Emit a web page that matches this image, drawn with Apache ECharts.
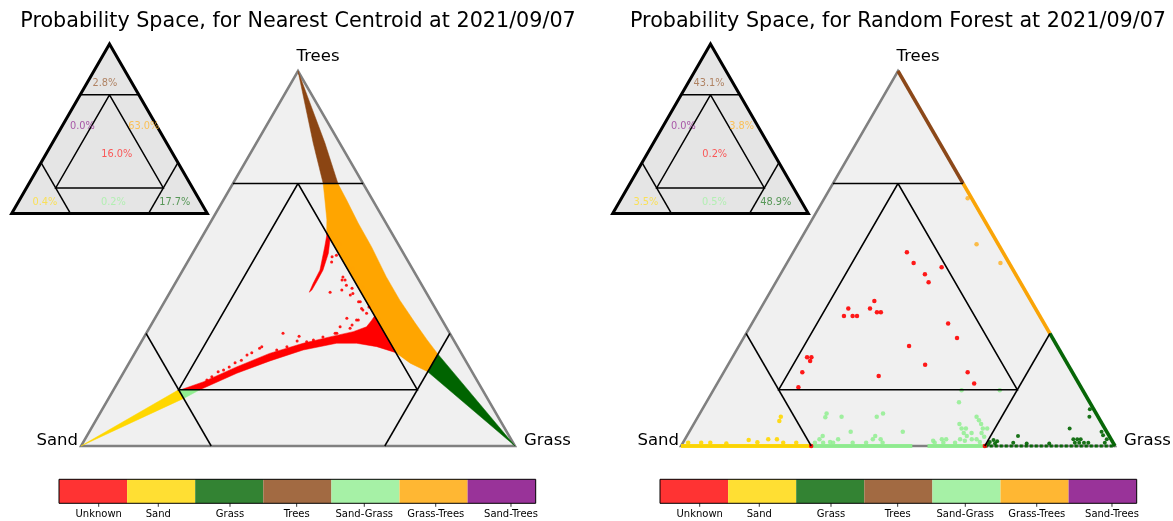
<!DOCTYPE html>
<html>
<head>
<meta charset="utf-8">
<script src="https://cdn.jsdelivr.net/npm/echarts@6/dist/echarts.min.js"></script>
<style>
html, body { margin: 0; padding: 0; background: #fff; }
#chart { width: 1173px; height: 521px; }
</style>
</head>
<body>
<div id="chart"></div>
<script>
var FONT = 'DejaVu Sans';

// classes, in colour bar order
var classNames = ['Unknown', 'Sand', 'Grass', 'Trees', 'Sand-Grass', 'Grass-Trees', 'Sand-Trees'];
var classColors = ['#ff0000', '#ffd700', '#006400', '#8b4513', '#90ee90', '#ffa500', '#800080'];
var legendColors = ['#ff3333', '#ffdf33', '#338333', '#a26a42', '#a6f1a6', '#ffb733', '#993399'];

// share of pixels per class (%), same order as classNames
var ncShares = [16.0, 0.4, 17.7, 2.8, 0.2, 63.0, 0.0];
var rfShares = [0.2, 3.5, 48.9, 43.1, 0.5, 3.8, 0.0];

// all points are [grass, trees] probabilities, sand = 1 - grass - trees

// Nearest Centroid: the clouds are so dense they read as filled bands, outlines below
var ncTreesBand = [[0, 1], [0.158, 0.808], [0.242, 0.7], [0.208, 0.7], [0.131, 0.808]];
var ncGrassTreesBand = [[0.208, 0.7], [0.242, 0.7], [0.284, 0.656], [0.341, 0.595], [0.404, 0.531], [0.478, 0.451],
  [0.540, 0.389], [0.606, 0.328], [0.656, 0.283], [0.7, 0.245], [0.7, 0.198], [0.648, 0.221], [0.601, 0.249],
  [0.282, 0.568], [0.265, 0.603], [0.234, 0.656]];
var ncGrassBand = [[0.7, 0.245], [1, 0], [0.7, 0.198]];
var ncUnknownBand = [[0.155, 0.15], [0.196, 0.171], [0.253, 0.211], [0.311, 0.247], [0.375, 0.274], [0.428, 0.291],
  [0.475, 0.305], [0.499, 0.318], [0.502, 0.335], [0.503, 0.347], [0.601, 0.249], [0.549, 0.265], [0.498, 0.274],
  [0.452, 0.274], [0.384, 0.256], [0.322, 0.227], [0.262, 0.194], [0.199, 0.15]];
var ncUnknownHook = [[0.282, 0.568], [0.299, 0.549], [0.313, 0.514], [0.323, 0.469], [0.324, 0.438], [0.324, 0.416],
  [0.321, 0.41], [0.318, 0.434], [0.316, 0.469], [0.296, 0.531], [0.286, 0.56]];
var ncSandBand = [[0, 0], [0.15, 0.15], [0.173, 0.127]];
var ncSandGrassBand = [[0.15, 0.15], [0.199, 0.15], [0.173, 0.127]];

// Nearest Centroid: loose points
var ncUnknownPts = [[0.315, 0.301], [0.356, 0.293], [0.358, 0.28], [0.284, 0.265], [0.281, 0.261], [0.269, 0.249],
  [0.261, 0.243], [0.255, 0.229], [0.244, 0.222], [0.236, 0.211], [0.227, 0.203], [0.217, 0.198], [0.209, 0.185],
  [0.202, 0.176], [0.442, 0.341], [0.463, 0.323], [0.451, 0.385], [0.468, 0.363], [0.481, 0.354], [0.478, 0.371],
  [0.467, 0.336], [0.439, 0.301], [0.412, 0.291], [0.394, 0.283], [0.381, 0.278], [0.342, 0.265], [0.323, 0.256],
  [0.326, 0.505], [0.334, 0.509], [0.332, 0.491], [0.378, 0.451], [0.387, 0.443], [0.380, 0.443], [0.397, 0.429],
  [0.393, 0.416], [0.414, 0.421], [0.369, 0.41], [0.419, 0.403], [0.423, 0.407], [0.447, 0.385], [0.463, 0.367],
  [0.471, 0.336], [0.438, 0.318], [0.463, 0.314], [0.435, 0.301]];
var ncGrassTreesPts = [[0.298, 0.560], [0.313, 0.544], [0.327, 0.531], [0.310, 0.555], [0.342, 0.515], [0.355, 0.501],
  [0.368, 0.485], [0.383, 0.475], [0.395, 0.459], [0.408, 0.445], [0.422, 0.432], [0.437, 0.416], [0.452, 0.4],
  [0.466, 0.387], [0.479, 0.373], [0.493, 0.36], [0.505, 0.349], [0.328, 0.539], [0.362, 0.501], [0.389, 0.475],
  [0.414, 0.448], [0.438, 0.424], [0.461, 0.4], [0.481, 0.379], [0.516, 0.341]];

// Random Forest: runs of points packed along the triangle edges
var rfTreesEdge = [[0, 1], [0.3, 0.7]];
var rfGrassTreesEdge = [[0.3, 0.7], [0.7, 0.3]];
var rfGrassEdge = [[0.7, 0.3], [1, 0]];
var rfSandBase = [[0, 0], [0.3, 0]];
var rfSandGrassBase1 = [[0.3, 0], [0.533, 0]];
var rfSandGrassBase2 = [[0.568, 0], [0.7, 0]];
var rfGrassBase = [[0.7, 0], [1, 0]];

// Random Forest: loose points
var rfUnknownPts = [[0.262, 0.517], [0.292, 0.488], [0.333, 0.458], [0.352, 0.437], [0.362, 0.477], [0.252, 0.387],
  [0.202, 0.367], [0.202, 0.347], [0.222, 0.347], [0.232, 0.347], [0.252, 0.367], [0.273, 0.357], [0.282, 0.357],
  [0.452, 0.327], [0.492, 0.288], [0.392, 0.267], [0.172, 0.237], [0.182, 0.237], [0.184, 0.227], [0.181, 0.197],
  [0.192, 0.157], [0.454, 0.217], [0.362, 0.187], [0.562, 0.197], [0.592, 0.167], [0.3, 0], [0.7, 0]];
var rfGrassTreesPts = [[0.330, 0.661], [0.412, 0.538], [0.492, 0.488]];
var rfSandPts = [[0.191, 0.078], [0.193, 0.067], [0.148, 0.016], [0.171, 0.010], [0.192, 0.018], [0.212, 0.018],
  [0.101, 0.007], [0.063, 0.009], [0.042, 0.009], [0.012, 0.009], [0.261, 0.009], [0.231, 0.009]];
var rfSandGrassPts = [[0.292, 0.087], [0.294, 0.077], [0.331, 0.078], [0.412, 0.078], [0.422, 0.087], [0.372, 0.038],
  [0.492, 0.038], [0.313, 0.027], [0.434, 0.027], [0.433, 0.018], [0.451, 0.018], [0.460, 0.009], [0.422, 0.009],
  [0.391, 0.009], [0.353, 0.018], [0.338, 0.011], [0.346, 0.009], [0.310, 0.018], [0.304, 0.009], [0.323, 0.009],
  [0.574, 0.014], [0.580, 0.009], [0.592, 0.018], [0.602, 0.018], [0.600, 0.009], [0.582, 0.117], [0.572, 0.149],
  [0.612, 0.059], [0.623, 0.047], [0.633, 0.047], [0.634, 0.035], [0.652, 0.035], [0.642, 0.078], [0.652, 0.069],
  [0.662, 0.059], [0.672, 0.047], [0.675, 0.035], [0.686, 0.025], [0.645, 0.027], [0.661, 0.018], [0.672, 0.018],
  [0.634, 0.018], [0.647, 0.014], [0.683, 0.011], [0.627, 0.009], [0.660, 0.149], [0.682, 0.047]];
var rfGrassPts = [[0.893, 0.098], [0.902, 0.078], [0.872, 0.047], [0.950, 0.038], [0.958, 0.029], [0.763, 0.027],
  [0.895, 0.018], [0.904, 0.018], [0.912, 0.018], [0.903, 0.009], [0.913, 0.009], [0.924, 0.009], [0.934, 0.009],
  [0.972, 0.018], [0.972, 0.009], [0.761, 0.009], [0.712, 0.016], [0.720, 0.007], [0.706, 0.011], [0.845, 0.007],
  [0.793, 0.007], [0.722, 0.013], [0.705, 0.005]];

// triangle and class boundaries
var triangle = [[0, 0], [1, 0], [0, 1]];
var boundaries = [
  [[0, 0.7], [0.3, 0.7]],
  [[0, 0.3], [0.3, 0]],
  [[0.7, 0.3], [0.7, 0]],
  [[0.15, 0.7], [0.15, 0.15], [0.7, 0.15], [0.15, 0.7]]
];

// where each share label starts inside the small triangle (x across, y = trees)
var insetAnchors = [[0.458, 0.348], [0.106, 0.063], [0.754, 0.063], [0.413, 0.767], [0.456, 0.063], [0.596, 0.515], [0.298, 0.515]];
// colour bar tick places, in blocks from the left
var cbTickPos = [0.583, 1.458, 2.511, 3.490, 4.483, 5.532, 6.637];

function toXY(p) { return [p[0] + p[1] / 2, p[1]]; }

function shapeSeries(idx, items, z) {
  return {
    type: 'custom', xAxisIndex: idx, yAxisIndex: idx, z: z, silent: true, clip: false,
    data: items.map(function () { return [0.5, 0.5]; }),
    renderItem: function (params, api) {
      var it = items[params.dataIndex];
      var pts = it.pts.map(function (p) { return api.coord(toXY(p)); });
      return {
        type: it.fill ? 'polygon' : 'polyline',
        shape: { points: pts },
        style: { fill: it.fill || 'none', stroke: it.stroke || 'none', lineWidth: it.width || 0, lineJoin: 'miter' }
      };
    }
  };
}

function dots(idx, pts, color, size, opacity) {
  return {
    type: 'scatter', xAxisIndex: idx, yAxisIndex: idx, z: 3, silent: true, clip: false,
    symbolSize: size, itemStyle: { color: color, opacity: opacity },
    data: pts.map(toXY)
  };
}

function edge(idx, pts, color, width, dash) {
  return {
    type: 'line', xAxisIndex: idx, yAxisIndex: idx, z: 3, silent: true, clip: false,
    symbol: 'none', lineStyle: { color: color, width: width, type: dash || 'solid', opacity: 0.95 },
    data: pts.map(toXY)
  };
}

function frame(idx) {
  return [
    shapeSeries(idx, [{ pts: triangle, fill: '#f0f0f0', stroke: '#808080', width: 2.5 }], 1),
    shapeSeries(idx, boundaries.map(function (b) { return { pts: b, stroke: '#000', width: 1.5 }; }), 5)
  ];
}

function inset(idx, shares) {
  return [
    shapeSeries(idx, [{ pts: triangle, fill: '#e5e5e5', stroke: '#000', width: 3 }], 1),
    shapeSeries(idx, boundaries.map(function (b) { return { pts: b, stroke: '#000', width: 1.5 }; }), 2),
    {
      type: 'scatter', xAxisIndex: idx, yAxisIndex: idx, z: 3, silent: true, clip: false, symbolSize: 0,
      data: insetAnchors.map(function (a, i) { return { value: a, label: { color: legendColors[i] } }; }),
      label: {
        show: true, position: 'right', distance: 0, fontSize: 9.8, fontFamily: FONT,
        formatter: function (p) { return shares[p.dataIndex].toFixed(1) + '%'; }
      }
    }
  ];
}

function colorbar(idx) {
  return [
    {
      type: 'custom', xAxisIndex: idx, yAxisIndex: idx, z: 2, silent: true,
      data: classNames.map(function (n, i) { return [i + 0.5, 0.5]; }),
      renderItem: function (params, api) {
        var i = params.dataIndex;
        var a = api.coord([i, 1]), b = api.coord([i + 1, 0]);
        return { type: 'rect', shape: { x: a[0], y: a[1], width: b[0] - a[0], height: b[1] - a[1] }, style: { fill: legendColors[i] } };
      }
    },
    {
      type: 'custom', xAxisIndex: idx, yAxisIndex: idx, z: 3, silent: true,
      data: [[3.5, 0.5]],
      renderItem: function (params, api) {
        var a = api.coord([0, 1]), b = api.coord([7, 0]);
        return { type: 'rect', shape: { x: a[0], y: a[1], width: b[0] - a[0], height: b[1] - a[1] }, style: { fill: 'none', stroke: '#000', lineWidth: 1 } };
      }
    },
    {
      type: 'custom', xAxisIndex: idx, yAxisIndex: idx, z: 3, silent: true, clip: false,
      data: cbTickPos.map(function (x) { return [x, 0]; }),
      renderItem: function (params, api) {
        var i = params.dataIndex;
        var p = api.coord([cbTickPos[i], 0]);
        return {
          type: 'group', children: [
            { type: 'line', shape: { x1: p[0], y1: p[1], x2: p[0], y2: p[1] + 3.5 }, style: { stroke: '#000', lineWidth: 0.8 } },
            { type: 'text', x: p[0], y: p[1] + 11, style: { text: classNames[i], fontSize: 10, fontFamily: FONT, fill: '#000', align: 'center', verticalAlign: 'middle' } }
          ]
        };
      }
    }
  ];
}

var chart = echarts.init(document.getElementById('chart'));

var grids = [
  { left: 81, top: 71, width: 434, height: 375 },
  { left: 681, top: 71, width: 434, height: 375 },
  { left: 11.7, top: 44, width: 195.6, height: 169.4 },
  { left: 612.7, top: 44, width: 195.6, height: 169.4 },
  { left: 59, top: 479.3, width: 476.7, height: 24 },
  { left: 660, top: 479.3, width: 476.7, height: 24 }
];

var series = [].concat(
  frame(0),
  shapeSeries(0, [
    { pts: ncTreesBand, fill: classColors[3], stroke: classColors[3], width: 0.5 },
    { pts: ncGrassTreesBand, fill: classColors[5], stroke: classColors[5], width: 0.5 },
    { pts: ncGrassBand, fill: classColors[2], stroke: classColors[2], width: 0.5 },
    { pts: ncUnknownBand, fill: classColors[0], stroke: classColors[0], width: 0.5 },
    { pts: ncUnknownHook, fill: classColors[0], stroke: classColors[0], width: 0.5 },
    { pts: ncSandBand, fill: classColors[1], stroke: classColors[1], width: 0.5 },
    { pts: ncSandGrassBand, fill: classColors[4], stroke: classColors[4], width: 0.5 }
  ], 2),
  dots(0, ncGrassTreesPts, classColors[5], 3, 0.45),
  dots(0, ncUnknownPts, classColors[0], 3, 0.9),
  inset(2, ncShares),
  colorbar(4),

  frame(1),
  edge(1, rfTreesEdge, classColors[3], 3.5),
  edge(1, rfGrassTreesEdge, classColors[5], 3.5),
  edge(1, rfGrassEdge, classColors[2], 3.5),
  edge(1, rfSandBase, classColors[1], 4),
  edge(1, rfSandGrassBase1, classColors[4], 4),
  edge(1, rfSandGrassBase2, classColors[4], 4),
  edge(1, rfGrassBase, classColors[2], 3, [3, 2]),
  dots(1, rfSandGrassPts, classColors[4], 4.5, 0.85),
  dots(1, rfSandPts, classColors[1], 4.5, 0.9),
  dots(1, rfGrassPts, classColors[2], 4, 0.9),
  dots(1, rfGrassTreesPts, classColors[5], 4.5, 0.7),
  dots(1, rfUnknownPts, classColors[0], 4.5, 0.9),
  inset(3, rfShares),
  colorbar(5)
);

var titleStyle = { fontFamily: FONT, fontSize: 20.7, fontWeight: 'normal', color: '#000' };
function vertexLabel(x, y, text, align) {
  return { type: 'text', x: x, y: y, silent: true, style: { text: text, fontSize: 16.5, fontFamily: FONT, fill: '#000', align: align, verticalAlign: 'middle' } };
}

var option = {
  backgroundColor: '#fff',
  animation: false,
  title: [
    { text: 'Probability Space, for Nearest Centroid at 2021/09/07', left: 298, top: 11, padding: 0, textAlign: 'center', textStyle: titleStyle },
    { text: 'Probability Space, for Random Forest at 2021/09/07', left: 898, top: 11, padding: 0, textAlign: 'center', textStyle: titleStyle }
  ],
  grid: grids,
  xAxis: grids.map(function (g, i) { return { gridIndex: i, type: 'value', min: 0, max: i >= 4 ? 7 : 1, show: false }; }),
  yAxis: grids.map(function (g, i) { return { gridIndex: i, type: 'value', min: 0, max: 1, show: false }; }),
  graphic: [
    vertexLabel(318, 57, 'Trees', 'center'),
    vertexLabel(78, 441, 'Sand', 'right'),
    vertexLabel(524, 441, 'Grass', 'left'),
    vertexLabel(918, 57, 'Trees', 'center'),
    vertexLabel(679, 441, 'Sand', 'right'),
    vertexLabel(1124, 441, 'Grass', 'left')
  ],
  series: series
};

chart.setOption(option);
</script>
</body>
</html>
